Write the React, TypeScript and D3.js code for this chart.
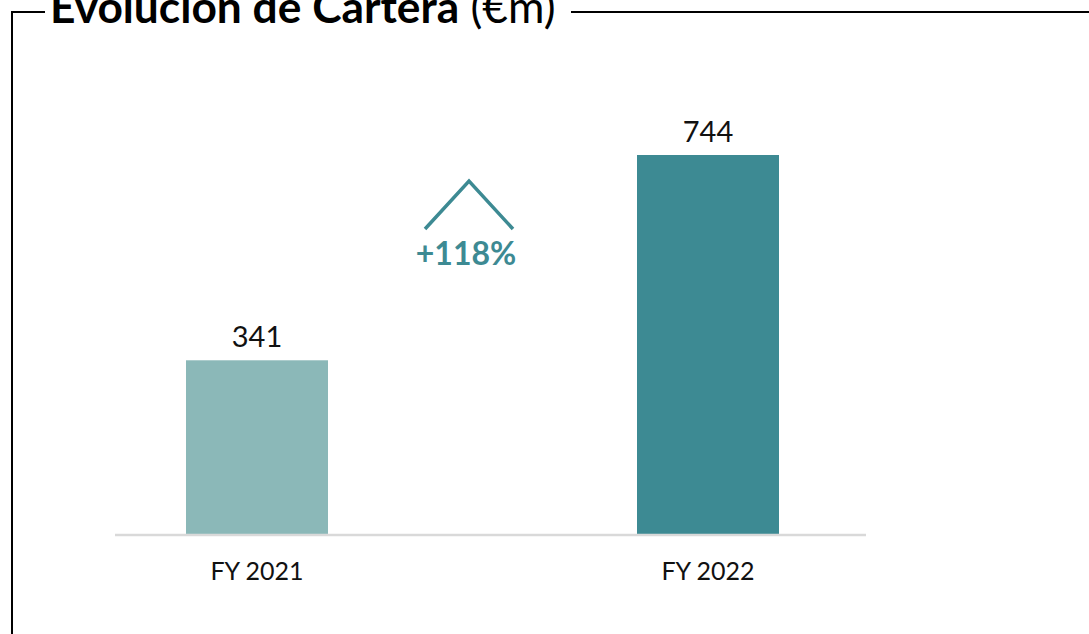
import React from "react";
import * as d3 from "d3";

const categories = ["FY 2021", "FY 2022"];
const values = [341, 744];
const growthLabel = "+118%";
const titleBold = "Evolución de Cartera";
const titleUnit = " (€m)";

const W = 1089;
const H = 634;
const barColors = ["#8bb8b8", "#3d8a93"];
const FONT = "Lato, 'Open Sans', sans-serif";

export default function App() {
  const x = d3.scalePoint<string>().domain(categories).range([257, 708]);
  const barW = 142;
  const y = d3.scaleLinear().domain([0, 744]).range([534, 155]);
  const axisX0 = 115;
  const axisX1 = 866;

  const cx = (x(categories[0])! + x(categories[1])!) / 2 - 13.5;
  const chevTopY = 181;
  const chevHalf = 44;
  const chevDrop = 48;
  const chevPath = d3.line()([
    [cx - chevHalf, chevTopY + chevDrop],
    [cx, chevTopY],
    [cx + chevHalf, chevTopY + chevDrop],
  ]);

  return (
    <svg
      width={W}
      height={H}
      style={{ position: "absolute", left: 0, top: 0, background: "#fff" }}
      fontFamily={FONT}
    >
      {/* frame */}
      <path d={`M12,${H} V12 H45`} fill="none" stroke="#000" strokeWidth={2} />
      <line x1={571} y1={12} x2={W} y2={12} stroke="#000" strokeWidth={2} />
      <text x={50} y={23} fontSize={44.3} fill="#000">
        <tspan fontWeight="bold">{titleBold}</tspan>
        <tspan>{titleUnit}</tspan>
      </text>

      {/* bars */}
      {values.map((v, i) => (
        <rect
          key={categories[i]}
          x={x(categories[i])! - barW / 2}
          y={y(v)}
          width={barW}
          height={y(0) - y(v)}
          fill={barColors[i]}
        />
      ))}
      {/* axis line */}
      <line x1={axisX0} x2={axisX1} y1={y(0) + 1} y2={y(0) + 1} stroke="#d9d9d9" strokeWidth={2.5} />

      {/* value labels */}
      {values.map((v, i) => (
        <text
          key={"v" + i}
          x={x(categories[i])!}
          y={y(v) - 13}
          textAnchor="middle"
          fontSize={29}
          fill="#111"
        >
          {v}
        </text>
      ))}
      {/* category labels */}
      {categories.map((c) => (
        <text key={c} x={x(c)!} y={580} textAnchor="middle" fontSize={25} fill="#111">
          {c}
        </text>
      ))}

      {/* growth chevron */}
      <path d={chevPath!} fill="none" stroke="#3d8a93" strokeWidth={3.5} />
      <text x={cx - 3} y={265} textAnchor="middle" fontSize={32} fontWeight="bold" fill="#3d8a93">
        {growthLabel}
      </text>
    </svg>
  );
}
